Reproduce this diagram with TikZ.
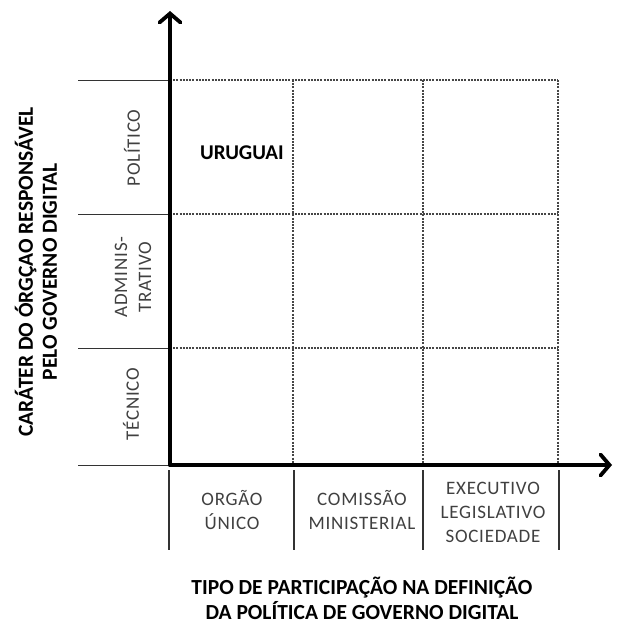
\documentclass[tikz,border=0pt]{standalone}
\usepackage{fontspec}
\setmainfont{Carlito}
\newfontfamily\spacedfont[LetterSpace=4]{Carlito}
\usetikzlibrary{arrows.meta}
\definecolor{labelgray}{RGB}{64,64,64}
\definecolor{gridgray}{RGB}{70,70,70}
\tikzset{
  axis/.style={line width=3.8pt, -{Straight Barb[length=9pt,width=21pt,line cap=round]}, line cap=round},
  gridline/.style={gridgray, line width=1.3pt, dash pattern=on 2pt off 1.2pt},
  tick/.style={black!80, line width=1pt},
  cat/.style={text=labelgray, font=\spacedfont\fontsize{19}{24}\selectfont, align=center},
  title/.style={font=\fontsize{21.5}{24}\selectfont\bfseries, align=center, inner sep=0pt}
}

\begin{document}
\begin{tikzpicture}[x=1pt, y=-1pt]
  \useasboundingbox (0,0) rectangle (619,626);

  % dotted grid
  \foreach \yy in {80,214,348}
    \draw[gridline] (170,\yy) -- (558,\yy);
  \foreach \xx in {293,423,558}
    \draw[gridline] (\xx,80) -- (\xx,465);

  % row separators and column separators
  \foreach \yy in {80,214,348,465}
    \draw[tick] (78,\yy) -- (170,\yy);
  \foreach \xx in {169,294,423,559}
    \draw[tick, line width=1.4pt] (\xx,470) -- (\xx,550);

  % axes
  \coordinate (origin) at (170,465);
  \coordinate (ytip) at (170,11);
  \coordinate (xtip) at (612,465);
  \draw[axis] (origin) -- (ytip);
  \draw[axis] (origin) -- (xtip);

  % row labels
  \node[cat, rotate=90] (politico) at (132,148) {POLÍTICO};
  \node[cat, rotate=90] (admin) at (133,277) {ADMINIS-\\TRATIVO};
  \node[cat, rotate=90] (tecnico) at (131,404) {TÉCNICO};

  % column labels
  \node[cat] (orgao) at (232,510) {ORGÃO\\ÚNICO};
  \node[cat] (comissao) at (362,510) {COMISSÃO\\MINISTERIAL};
  \node[cat] (executivo) at (493,512) {EXECUTIVO\\LEGISLATIVO\\SOCIEDADE};

  % case
  \node[font=\fontsize{21}{24}\selectfont\bfseries] (uruguai) at (242,153) {URUGUAI};

  % axis titles
  \node[title, rotate=90] (ytitle) at (36,272)
    {CARÁTER DO ÓRGÇAO RESPONSÁVEL\\PELO GOVERNO DIGITAL};
  \node[title, font=\fontsize{21.5}{25}\selectfont\bfseries] (xtitle) at (362,598)
    {TIPO DE PARTICIPAÇÃO NA DEFINIÇÃO\\DA POLÍTICA DE GOVERNO DIGITAL};
\end{tikzpicture}
\end{document}
